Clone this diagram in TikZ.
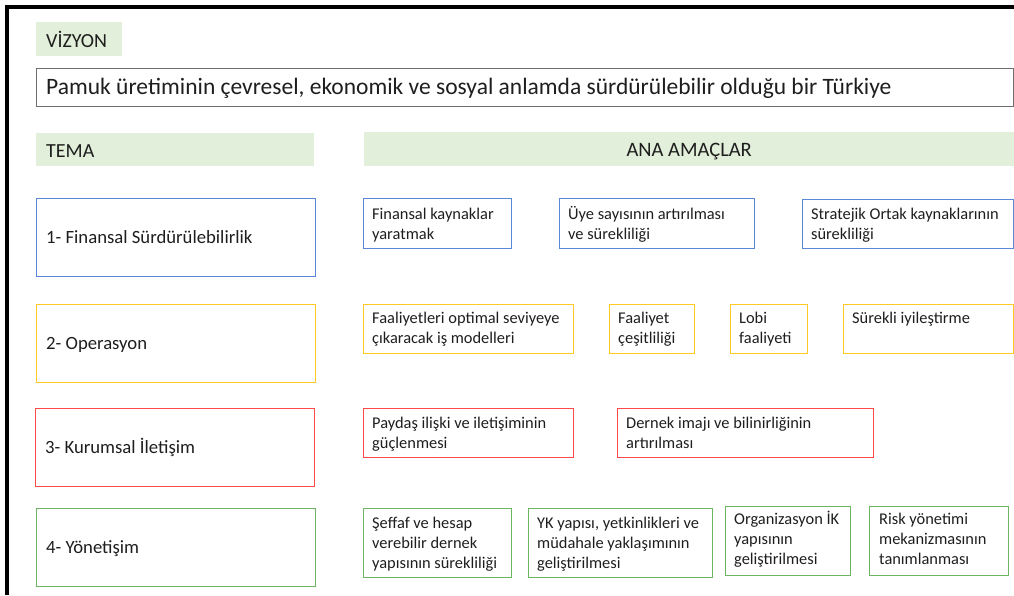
\documentclass[tikz,border=0pt]{standalone}
\usepackage{fontspec}
\setmainfont{Carlito}
\usetikzlibrary{calc}
\definecolor{hdrgreen}{HTML}{E2EFDA}
\definecolor{cblue}{HTML}{5B87D4}
\definecolor{cyellow}{HTML}{FFC823}
\definecolor{cred}{HTML}{FF4A4A}
\definecolor{cgreen}{HTML}{6DB563}
\definecolor{cgray}{HTML}{6E6E6E}
\definecolor{ink}{HTML}{1E1E1E}
\begin{document}
\begin{tikzpicture}[x=1pt,y=-1pt,
  hdr/.style={fill=hdrgreen, draw=none, inner sep=0, anchor=north west},
  frame/.style={draw=#1, line width=1.4pt, inner sep=0, anchor=north west},
  txt/.style={inner sep=0, anchor=base west, align=left, text=ink, font=\fontsize{16.4}{20.3}\selectfont},
  thtxt/.style={inner sep=0, anchor=base west, text=ink, font=\fontsize{18.7}{22}\selectfont},
  hdtxt/.style={inner sep=0, text=ink, font=\fontsize{20}{24}\selectfont},
  border/.style={line width=4pt, black}]
\useasboundingbox (0,0) rectangle (1014,595);
% page border
\coordinate (bl) at (7,595);
\coordinate (tr) at (1014,7);
\draw[border] (bl) -- (7,7) -- (tr);
% headers
\node[hdr, minimum width=86pt, minimum height=34pt] (viz) at (36,22) {};
\node[hdtxt, anchor=base west] at ($(viz.north west)+(10,25)$) {VİZYON};
\node[frame=cgray, minimum width=977pt, minimum height=38pt] (vis) at (36,68) {};
\node[hdtxt, anchor=base west, font=\fontsize{23.5}{27}\selectfont] at ($(vis.north west)+(10,26)$) {Pamuk üretiminin çevresel, ekonomik ve sosyal anlamda sürdürülebilir olduğu bir Türkiye};
\node[hdr, minimum width=278pt, minimum height=33pt] (tema) at (36,133) {};
\node[hdtxt, anchor=base west] at ($(tema.north west)+(10,24)$) {TEMA};
\node[hdr, minimum width=650pt, minimum height=34pt] (ana) at (364,132) {};
\node[hdtxt, anchor=base, font=\fontsize{20.5}{24}\selectfont] at ($(ana.north)+(0,24)$) {ANA AMAÇLAR};
% themes
\node[frame=cblue, minimum width=279pt, minimum height=78pt] (t1) at (36,198) {};
\node[thtxt] at ($(t1.west)+(10,6)$) {1- Finansal Sürdürülebilirlik};
\node[frame=cyellow, minimum width=279pt, minimum height=78pt] (t2) at (36,304) {};
\node[thtxt] at ($(t2.west)+(10,6)$) {2- Operasyon};
\node[frame=cred, minimum width=279pt, minimum height=78pt] (t3) at (35,408) {};
\node[thtxt] at ($(t3.west)+(10,6)$) {3- Kurumsal İletişim};
\node[frame=cgreen, minimum width=279pt, minimum height=78pt] (t4) at (36,508) {};
\node[thtxt] at ($(t4.west)+(10,6)$) {4- Yönetişim};
% row 1 (base anchor = last line)
\node[frame=cblue, minimum width=148pt, minimum height=50pt] (g11) at (363,198) {};
\node[txt] at ($(g11.north west)+(9,41.3)$) {Finansal kaynaklar\\yaratmak};
\node[frame=cblue, minimum width=195pt, minimum height=50pt] (g12) at (559,198) {};
\node[txt] at ($(g12.north west)+(9,41.3)$) {Üye sayısının artırılması\\ve sürekliliği};
\node[frame=cblue, minimum width=211pt, minimum height=49pt] (g13) at (802,199) {};
\node[txt] at ($(g13.north west)+(9,40.3)$) {Stratejik Ortak kaynaklarının\\sürekliliği};
% row 2
\node[frame=cyellow, minimum width=210pt, minimum height=49pt] (g21) at (363,304) {};
\node[txt] at ($(g21.north west)+(9,39.8)$) {Faaliyetleri optimal seviyeye\\çıkaracak iş modelleri};
\node[frame=cyellow, minimum width=85pt, minimum height=49pt] (g22) at (609,304) {};
\node[txt] at ($(g22.north west)+(9,39.8)$) {Faaliyet\\çeşitliliği};
\node[frame=cyellow, minimum width=77pt, minimum height=49pt] (g23) at (730,304) {};
\node[txt] at ($(g23.north west)+(9,39.8)$) {Lobi\\faaliyeti};
\node[frame=cyellow, minimum width=170pt, minimum height=49pt] (g24) at (843,304) {};
\node[txt] at ($(g24.north west)+(9,19.5)$) {Sürekli iyileştirme};
% row 3
\node[frame=cred, minimum width=210pt, minimum height=49pt] (g31) at (363,408) {};
\node[txt] at ($(g31.north west)+(9,40.3)$) {Paydaş ilişki ve iletişiminin\\güçlenmesi};
\node[frame=cred, minimum width=256pt, minimum height=49pt] (g32) at (617,408) {};
\node[txt] at ($(g32.north west)+(9,40.3)$) {Dernek imajı ve bilinirliğinin\\artırılması};
% row 4
\node[frame=cgreen, minimum width=148pt, minimum height=69pt] (g41) at (363,508) {};
\node[txt] at ($(g41.north west)+(9,60.6)$) {Şeffaf ve hesap\\verebilir dernek\\yapısının sürekliliği};
\node[frame=cgreen, minimum width=184pt, minimum height=69pt] (g42) at (528,508) {};
\node[txt] at ($(g42.north west)+(9,60.6)$) {YK yapısı, yetkinlikleri ve\\müdahale yaklaşımının\\geliştirilmesi};
\node[frame=cgreen, minimum width=125pt, minimum height=69pt] (g43) at (725,506) {};
\node[txt] at ($(g43.north west)+(9,58.6)$) {Organizasyon İK\\yapısının\\geliştirilmesi};
\node[frame=cgreen, minimum width=139pt, minimum height=69pt] (g44) at (869,506) {};
\node[txt] at ($(g44.north west)+(10,58.6)$) {Risk yönetimi\\mekanizmasının\\tanımlanması};
\end{tikzpicture}
\end{document}
